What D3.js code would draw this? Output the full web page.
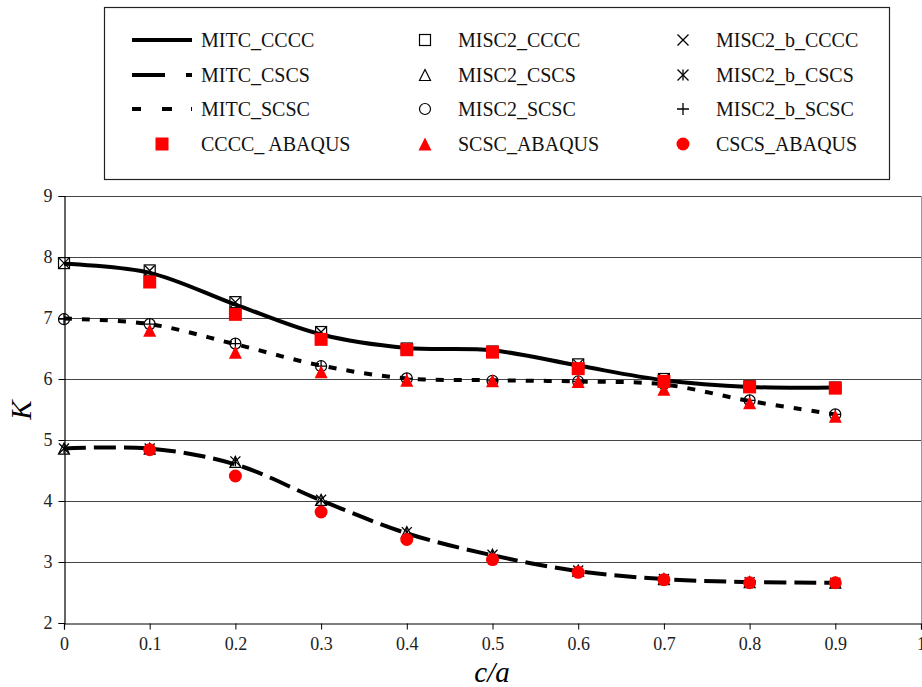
<!DOCTYPE html>
<html>
<head>
    <meta charset="UTF-8">
    <script src="https://d3js.org/d3.v7.min.js"></script>
    <style>
        body { margin: 0; background: white; }
        text { font-family: "Liberation Serif", "Times New Roman", serif; }
    </style>
</head>
<body>
    <svg id="chart" width="922" height="687"></svg>
    <script>
        // c/a values
        const xs = [0, 0.1, 0.2, 0.3, 0.4, 0.5, 0.6, 0.7, 0.8, 0.9];
        const yTicks = [2, 3, 4, 5, 6, 7, 8, 9];
        const xTicks = [0, 0.1, 0.2, 0.3, 0.4, 0.5, 0.6, 0.7, 0.8, 0.9, 1];

        // MITC lines
        const mitcCCCC = [7.89, 7.74, 7.22, 6.73, 6.51, 6.47, 6.22, 5.98, 5.87, 5.86];
        const mitcCSCS = [4.86, 4.86, 4.60, 4.01, 3.47, 3.11, 2.85, 2.72, 2.67, 2.66];
        const mitcSCSC = [6.99, 6.90, 6.57, 6.22, 6.01, 5.98, 5.96, 5.91, 5.64, 5.42];
        // MISC2 markers
        const misc2CCCC = [7.90, 7.78, 7.26, 6.77, 6.50, 6.45, 6.24, 6.00, 5.88, 5.86];
        const misc2CSCS = [4.86, 4.86, 4.64, 4.02, 3.49, 3.12, 2.86, 2.72, 2.67, 2.66];
        const misc2SCSC = [6.98, 6.90, 6.58, 6.21, 6.01, 5.97, 5.96, 5.92, 5.65, 5.42];
        // MISC2_b markers
        const misc2bCCCC = [7.90, 7.78, 7.26, 6.77, 6.50, 6.45, 6.24, 6.00, 5.88, 5.86];
        const misc2bCSCS = [4.86, 4.86, 4.65, 4.02, 3.49, 3.12, 2.86, 2.72, 2.67, 2.66];
        const misc2bSCSC = [6.98, 6.90, 6.58, 6.21, 6.01, 5.97, 5.96, 5.92, 5.65, 5.42];
        // ABAQUS (from c/a = 0.1)
        const abaqusX = [0.1, 0.2, 0.3, 0.4, 0.5, 0.6, 0.7, 0.8, 0.9];
        const abaqusCCCC = [7.59, 7.06, 6.65, 6.48, 6.44, 6.17, 5.96, 5.87, 5.85];
        const abaqusSCSC = [6.80, 6.44, 6.12, 5.98, 5.97, 5.96, 5.83, 5.61, 5.39];
        const abaqusCSCS = [4.84, 4.41, 3.82, 3.37, 3.04, 2.83, 2.71, 2.66, 2.66];

        const svg = d3.select("#chart");
        const x = d3.scaleLinear().domain([0, 1]).range([64, 921]);
        const y = d3.scaleLinear().domain([2, 9]).range([623, 196]);

        // grid
        svg.append("g").selectAll("line").data(yTicks.slice(1)).enter().append("line")
            .attr("x1", x(0)).attr("x2", x(1))
            .attr("y1", d => Math.round(y(d)) + 0.5).attr("y2", d => Math.round(y(d)) + 0.5)
            .attr("stroke", "#444").attr("stroke-width", 1.2);
        svg.append("line")
            .attr("x1", x(1) + 0.5).attr("x2", x(1) + 0.5)
            .attr("y1", y(9)).attr("y2", y(2))
            .attr("stroke", "#999").attr("stroke-width", 1);

        // axes
        const xAxis = svg.append("g").attr("transform", `translate(0,${Math.round(y(2)) + 0.5})`)
            .call(d3.axisBottom(x).tickValues(xTicks).tickSize(6).tickPadding(8)
                .tickFormat(d => d === 0 || d === 1 ? d3.format("d")(d) : d3.format(".1f")(d)));
        const yAxis = svg.append("g").attr("transform", `translate(${Math.round(x(0)) + 0.5},0)`)
            .call(d3.axisLeft(y).tickValues(yTicks).tickSize(6).tickPadding(6).tickFormat(d3.format("d")));
        [xAxis, yAxis].forEach(a => {
            a.attr("font-family", "'Liberation Serif', serif");
            a.select(".domain").attr("stroke", "#000").attr("stroke-width", 1.2);
            a.selectAll(".tick line").attr("stroke", "#000");
            a.selectAll(".tick text").style("font-size", "18px").attr("fill", "#222")
                .style("font-family", "'Liberation Serif', serif");
        });

        svg.append("text")
            .attr("transform", "translate(31,410) rotate(-90)")
            .attr("text-anchor", "middle")
            .style("font-size", "29px").style("font-style", "italic")
            .text("K");
        svg.append("text")
            .attr("x", 492).attr("y", 682)
            .attr("text-anchor", "middle")
            .style("font-size", "29px").style("font-style", "italic")
            .text("c/a");

        // lines
        const line = d3.line().x(d => x(d[0])).y(d => y(d[1])).curve(d3.curveCatmullRom.alpha(0.5));
        const lineSeries = [
            { data: mitcCCCC, dash: null },
            { data: mitcCSCS, dash: "22,8" },
            { data: mitcSCSC, dash: "8,10" }
        ];
        lineSeries.forEach(s => {
            svg.append("path")
                .datum(xs.map((v, i) => [v, s.data[i]]))
                .attr("d", line)
                .attr("fill", "none")
                .attr("stroke", "#000")
                .attr("stroke-width", 4)
                .attr("stroke-dasharray", s.dash);
        });

        // marker shapes
        function marker(g, type, size) {
            const h = size / 2;
            if (type === "square") {
                g.append("rect").attr("x", -h).attr("y", -h).attr("width", size).attr("height", size)
                    .attr("fill", "none").attr("stroke", "#000").attr("stroke-width", 1.2);
            } else if (type === "triangle") {
                g.append("path").attr("d", `M0,${-h}L${h},${h}L${-h},${h}Z`)
                    .attr("fill", "none").attr("stroke", "#000").attr("stroke-width", 1.2);
            } else if (type === "circle") {
                g.append("circle").attr("r", h).attr("fill", "none").attr("stroke", "#000").attr("stroke-width", 1.2);
            } else if (type === "cross" || type === "star") {
                g.append("path").attr("d", `M${-h},${-h}L${h},${h}M${-h},${h}L${h},${-h}`)
                    .attr("stroke", "#000").attr("stroke-width", 1.3);
                if (type === "star") g.append("path").attr("d", `M0,${-h}L0,${h}`).attr("stroke", "#000").attr("stroke-width", 1.3);
            } else if (type === "plus") {
                g.append("path").attr("d", `M${-h},0L${h},0M0,${-h}L0,${h}`).attr("stroke", "#000").attr("stroke-width", 1.3);
            } else if (type === "rsquare") {
                g.append("rect").attr("x", -h).attr("y", -h).attr("width", size).attr("height", size).attr("fill", "#ff0000");
            } else if (type === "rtriangle") {
                g.append("path").attr("d", `M0,${-h}L${h},${h}L${-h},${h}Z`).attr("fill", "#ff0000");
            } else if (type === "rcircle") {
                g.append("circle").attr("r", h).attr("fill", "#ff0000");
            }
        }

        const markerSeries = [
            { xv: xs, data: misc2CCCC, type: "square", size: 11 },
            { xv: xs, data: misc2CSCS, type: "triangle", size: 11 },
            { xv: xs, data: misc2SCSC, type: "circle", size: 11 },
            { xv: xs, data: misc2bCCCC, type: "cross", size: 10 },
            { xv: xs, data: misc2bCSCS, type: "star", size: 10 },
            { xv: xs, data: misc2bSCSC, type: "plus", size: 11 },
            { xv: abaqusX, data: abaqusCCCC, type: "rsquare", size: 13 },
            { xv: abaqusX, data: abaqusSCSC, type: "rtriangle", size: 13 },
            { xv: abaqusX, data: abaqusCSCS, type: "rcircle", size: 13 }
        ];
        markerSeries.forEach(s => {
            s.xv.forEach((v, i) => {
                const g = svg.append("g").attr("transform", `translate(${x(v)},${y(s.data[i])})`);
                marker(g, s.type, s.size);
            });
        });

        // legend
        const legend = svg.append("g");
        legend.append("rect").attr("x", 104.5).attr("y", 7.5).attr("width", 785).attr("height", 172)
            .attr("fill", "white").attr("stroke", "#222").attr("stroke-width", 1.2);
        const rowsY = [40, 75, 109, 144];
        const legendCols = [
            [
                { label: "MITC_CCCC", line: null },
                { label: "MITC_CSCS", line: "33,21,6,0" },
                { label: "MITC_SCSC", line: "9,21,10,19,1,0" },
                { label: "CCCC_ ABAQUS", type: "rsquare", size: 13 }
            ],
            [
                { label: "MISC2_CCCC", type: "square", size: 11 },
                { label: "MISC2_CSCS", type: "triangle", size: 11 },
                { label: "MISC2_SCSC", type: "circle", size: 11 },
                { label: "SCSC_ABAQUS", type: "rtriangle", size: 13 }
            ],
            [
                { label: "MISC2_b_CCCC", type: "cross", size: 11 },
                { label: "MISC2_b_CSCS", type: "star", size: 11 },
                { label: "MISC2_b_SCSC", type: "plus", size: 12 },
                { label: "CSCS_ABAQUS", type: "rcircle", size: 13 }
            ]
        ];
        const colMarkX = [162, 425, 683];
        const colTextX = [201, 458, 716];
        legendCols.forEach((col, c) => {
            col.forEach((item, r) => {
                const ry = rowsY[r];
                if (item.type) {
                    const g = legend.append("g").attr("transform", `translate(${colMarkX[c]},${ry})`);
                    marker(g, item.type, item.size);
                } else {
                    legend.append("line").attr("x1", 132).attr("x2", 192).attr("y1", ry).attr("y2", ry)
                        .attr("stroke", "#000").attr("stroke-width", 4)
                        .attr("stroke-dasharray", item.line);
                }
                legend.append("text").attr("x", colTextX[c]).attr("y", ry + 7)
                    .style("font-size", "20px").attr("fill", "#111").text(item.label);
            });
        });
    </script>
</body>
</html>
